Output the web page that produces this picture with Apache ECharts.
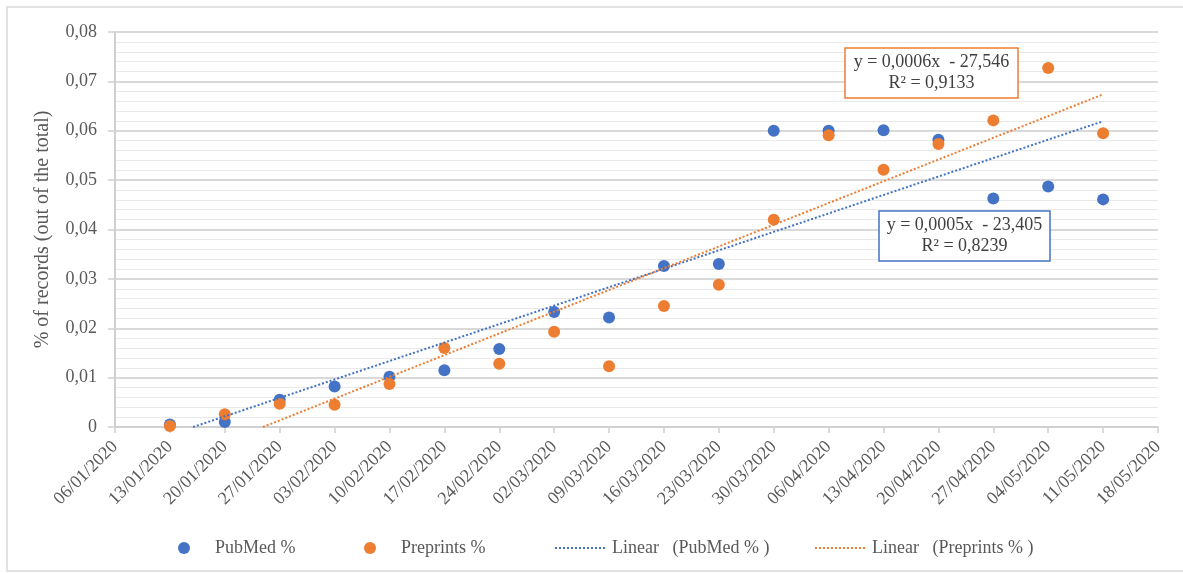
<!DOCTYPE html>
<html>
<head>
<meta charset="utf-8">
<script src="https://cdn.jsdelivr.net/npm/echarts@6/dist/echarts.min.js"></script>
<style>
html,body{margin:0;padding:0;background:#fff;}
#c{width:1183px;height:573px;}
</style>
</head>
<body>
<div id="c"></div>
<script>
// ---- data ----
const dates = ['13/01/2020','20/01/2020','27/01/2020','03/02/2020','10/02/2020','17/02/2020','24/02/2020','02/03/2020','09/03/2020','16/03/2020','23/03/2020','30/03/2020','06/04/2020','13/04/2020','20/04/2020','27/04/2020','04/05/2020','11/05/2020'];
const pubmed = [0.0005,0.0010,0.0055,0.0082,0.0102,0.0115,0.0158,0.0233,0.0222,0.0326,0.0330,0.0600,0.0600,0.0601,0.0582,0.0463,0.0487,0.0461];
const preprints = [0.0002,0.0026,0.0047,0.0045,0.0087,0.0160,0.0128,0.0193,0.0123,0.0245,0.0288,0.0420,0.0591,0.0521,0.0573,0.0621,0.0727,0.0595];
const axisStart = '06/01/2020';
const axisEnd = '18/05/2020';
const yTicks = ['0','0,01','0,02','0,03','0,04','0,05','0,06','0,07','0,08'];
const eqPub = ['y = 0,0005x  - 23,405','R² = 0,8239'];
const eqPre = ['y = 0,0006x  - 27,546','R² = 0,9133'];
const names = ['PubMed %','Preprints %','Linear   (PubMed % )','Linear   (Preprints % )'];

// ---- helpers ----
function parseD(s){const p=s.split('/');return Date.UTC(+p[2],+p[1]-1,+p[0]);}
const t0 = parseD(axisStart);
const DAY = 86400000;
function dayOf(s){return Math.round((parseD(s)-t0)/DAY);}
function fmt(d){const dt=new Date(t0+d*DAY);const dd=String(dt.getUTCDate()).padStart(2,'0');const mm=String(dt.getUTCMonth()+1).padStart(2,'0');return dd+'/'+mm+'/'+dt.getUTCFullYear();}
const xs = dates.map(dayOf);
function trend(ys){
  const n=xs.length;let sx=0,sy=0,sxx=0,sxy=0;
  for(let i=0;i<n;i++){sx+=xs[i];sy+=ys[i];sxx+=xs[i]*xs[i];sxy+=xs[i]*ys[i];}
  const b=(n*sxy-sx*sy)/(n*sxx-sx*sx);const a=(sy-b*sx)/n;
  let x1=xs[0];const x2=xs[n-1];
  if(a+b*x1<0){x1=-a/b;}
  return [[x1,a+b*x1],[x2,a+b*x2]];
}
const BLUE='#4472C4', ORANGE='#ED7D31', TXT='#595959';
const FONT='"Liberation Serif","Times New Roman",serif';

const chart = echarts.init(document.getElementById('c'));
function legend(name,left,hideSym){
  const l={data:[name],left:left,top:534,itemWidth:52,itemHeight:12,itemGap:0,
    textStyle:{fontFamily:FONT,fontSize:18,color:TXT},selectedMode:false};
  if(hideSym){l.itemStyle={opacity:0};l.lineStyle={width:2};}
  return l;
}
function box(x,y,w,h,color,lines){
  return {type:'group',children:[
    {type:'rect',shape:{x:x,y:y,width:w,height:h},style:{fill:'#fff',stroke:color,lineWidth:1.5},z:100},
    {type:'text',x:x+w/2,y:y+h/2,style:{text:lines.join('\n'),fontFamily:FONT,fontSize:18,fill:'#404040',align:'center',verticalAlign:'middle',lineHeight:21},z:101}
  ]};
}
chart.setOption({
  animation:false,
  backgroundColor:'#fff',
  grid:{left:115,right:25,top:32,bottom:146},
  xAxis:{type:'value',min:0,max:dayOf(axisEnd),interval:7,
    axisLine:{show:true,lineStyle:{color:'#d0d0d0',width:2}},
    axisTick:{show:true,length:6,lineStyle:{color:'#d0d0d0',width:1.5}},
    splitLine:{show:false},
    axisLabel:{rotate:45,margin:17,color:TXT,fontFamily:FONT,fontSize:18,formatter:v=>fmt(v)}
  },
  yAxis:{type:'value',min:0,max:0.08,interval:0.01,
    name:'% of records (out of the total)',nameLocation:'middle',nameGap:62,
    nameTextStyle:{fontFamily:FONT,fontSize:20,color:TXT},
    axisLine:{show:true,lineStyle:{color:'#d0d0d0',width:2}},
    axisTick:{show:true,length:7,lineStyle:{color:'#d0d0d0',width:1.5}},
    minorTick:{show:false,splitNumber:5},
    splitLine:{show:true,lineStyle:{color:'#d9d9d9',width:2}},
    minorSplitLine:{show:true,lineStyle:{color:'#e9e9e9',width:1}},
    axisLabel:{margin:18,color:TXT,fontFamily:FONT,fontSize:18,formatter:(v)=>yTicks[Math.round(v*100)]}
  },
  legend:[legend(names[0],173,false),legend(names[1],359,false),legend(names[2],549,true),legend(names[3],809,true)],
  series:[
    {name:names[0],type:'scatter',symbol:'circle',symbolSize:12,itemStyle:{color:BLUE,opacity:1},data:xs.map((x,i)=>[x,pubmed[i]]),z:3},
    {name:names[1],type:'scatter',symbol:'circle',symbolSize:12,itemStyle:{color:ORANGE,opacity:1},data:xs.map((x,i)=>[x,preprints[i]]),z:4},
    {name:names[2],type:'line',symbol:'none',showSymbol:false,itemStyle:{color:BLUE},lineStyle:{color:BLUE,width:2,type:[2,2]},data:trend(pubmed),z:5},
    {name:names[3],type:'line',symbol:'none',showSymbol:false,itemStyle:{color:ORANGE},lineStyle:{color:ORANGE,width:2,type:[2,2]},data:trend(preprints),z:5}
  ],
  graphic:[
    {type:'rect',shape:{x:7,y:7,width:1190,height:564},style:{fill:'none',stroke:'#d9d9d9',lineWidth:1.5},silent:true,z:-1},
    box(845,48,173,50,ORANGE,eqPre),
    box(879,211,171,50,BLUE,eqPub)
  ]
});
</script>
</body>
</html>
